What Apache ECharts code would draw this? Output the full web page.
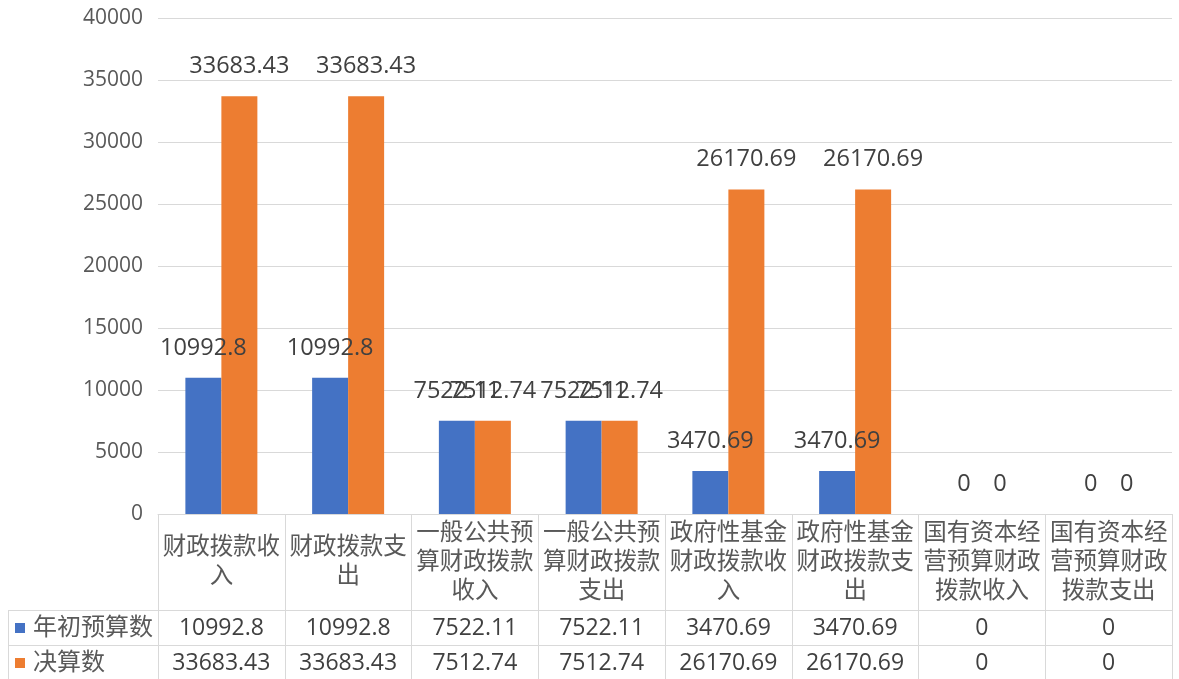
<!DOCTYPE html>
<html>
<head>
<meta charset="utf-8">
<script src="https://cdn.jsdelivr.net/npm/echarts@6/dist/echarts.min.js"></script>
<style>
  html, body { margin: 0; padding: 0; background: #fff; }
  #main { width: 1179px; height: 679px; }
</style>
</head>
<body>
<div id="main"></div>
<script>
// 数据
var categories = ['财政拨款收入', '财政拨款支出', '一般公共预算财政拨款收入', '一般公共预算财政拨款支出',
    '政府性基金财政拨款收入', '政府性基金财政拨款支出', '国有资本经营预算财政拨款收入', '国有资本经营预算财政拨款支出'];
var budgetValues = [10992.8, 10992.8, 7522.11, 7522.11, 3470.69, 3470.69, 0, 0];
var finalValues = [33683.43, 33683.43, 7512.74, 7512.74, 26170.69, 26170.69, 0, 0];
var seriesNames = ['年初预算数', '决算数'];
var yTicks = [0, 5000, 10000, 15000, 20000, 25000, 30000, 35000, 40000];

var FONT = '"Open Sans", "Noto Sans CJK SC", sans-serif';
var LINE = '#d9d9d9';

// 每行5个字换行
function wrap(s) {
    var out = [];
    for (var i = 0; i < s.length; i += 5) out.push(s.slice(i, i + 5));
    return out.join('\n');
}

var myChart = echarts.init(document.getElementById('main'));
var option = {
    animation: false,
    color: ['#4472c4', '#ed7d31'],
    textStyle: { fontFamily: FONT },
    grid: { left: 158, right: 7, top: 18, bottom: 165 },
    legend: {
        data: seriesNames,
        orient: 'vertical',
        left: 15,
        top: 616,
        padding: 0,
        itemWidth: 10,
        itemHeight: 10,
        itemGap: 11,
        icon: 'rect',
        textStyle: { fontSize: 24, lineHeight: 24, color: '#595959', fontFamily: FONT, padding: [0, 0, 0, 3] }
    },
    xAxis: [
        {
            type: 'category',
            data: categories,
            position: 'bottom',
            axisLine: { show: true, lineStyle: { color: LINE, width: 1 } },
            axisTick: { show: true, length: 96, interval: 0, lineStyle: { color: LINE } },
            axisLabel: {
                interval: 0,
                margin: 48,
                verticalAlign: 'middle',
                fontSize: 23.5,
                lineHeight: 29,
                color: '#595959',
                fontFamily: FONT,
                formatter: function (v) { return wrap(v); }
            }
        },
        {
            type: 'category',
            data: categories,
            position: 'bottom',
            offset: 96,
            axisLine: { show: true, lineStyle: { color: LINE, width: 1 } },
            axisTick: { show: true, length: 35, interval: 0, lineStyle: { color: LINE } },
            axisLabel: {
                interval: 0,
                margin: 18,
                verticalAlign: 'middle',
                fontSize: 23,
                color: '#404040',
                fontFamily: FONT,
                formatter: function (v, i) { return String(budgetValues[i]); }
            }
        },
        {
            type: 'category',
            data: categories,
            position: 'bottom',
            offset: 131,
            axisLine: { show: true, lineStyle: { color: LINE, width: 1 } },
            axisTick: { show: true, length: 35, interval: 0, lineStyle: { color: LINE } },
            axisLabel: {
                interval: 0,
                margin: 18,
                verticalAlign: 'middle',
                fontSize: 23,
                color: '#404040',
                fontFamily: FONT,
                formatter: function (v, i) { return String(finalValues[i]); }
            }
        }
    ],
    yAxis: {
        type: 'value',
        min: yTicks[0],
        max: yTicks[yTicks.length - 1],
        interval: 5000,
        axisLine: { show: false },
        axisTick: { show: false },
        axisLabel: {
            fontSize: 21, color: '#595959', margin: 15, fontFamily: FONT,
            formatter: function (v) { return String(v); }
        },
        splitLine: { lineStyle: { color: LINE, width: 1 } }
    },
    series: [
        {
            name: seriesNames[0],
            type: 'bar',
            barWidth: '28.4%',
            barGap: '0%',
            data: budgetValues,
            label: { show: true, position: 'top', distance: 18, fontSize: 23.5, color: '#404040', fontFamily: FONT }
        },
        {
            name: seriesNames[1],
            type: 'bar',
            barWidth: '28.4%',
            barGap: '0%',
            data: finalValues,
            label: { show: true, position: 'top', distance: 18, fontSize: 23.5, color: '#404040', fontFamily: FONT }
        }
    ],
    graphic: [
        { type: 'line', shape: { x1: 8, y1: 610.5, x2: 158, y2: 610.5 }, style: { stroke: LINE, lineWidth: 1 } },
        { type: 'line', shape: { x1: 8, y1: 645.5, x2: 158, y2: 645.5 }, style: { stroke: LINE, lineWidth: 1 } },
        { type: 'line', shape: { x1: 8.5, y1: 610, x2: 8.5, y2: 679 }, style: { stroke: LINE, lineWidth: 1 } }
    ]
};
myChart.setOption(option);
</script>
</body>
</html>
